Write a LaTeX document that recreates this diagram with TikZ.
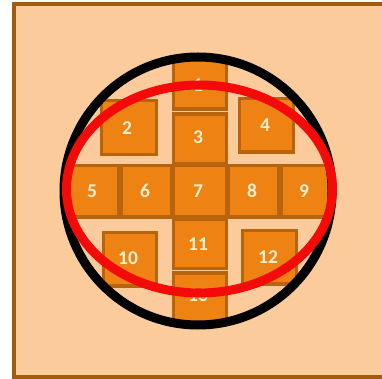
\documentclass[tikz,border=0pt]{standalone}
\usepackage{fontspec}
\setmainfont{Carlito}
\definecolor{bgpeach}{HTML}{FCCB9C}
\definecolor{framebrown}{HTML}{A65A0C}
\definecolor{tileorange}{HTML}{EE8212}
\definecolor{tilebrown}{HTML}{B8640E}
\definecolor{labelcream}{HTML}{FDEFCF}
\definecolor{ringred}{HTML}{F50A0A}
\tikzset{
  tile/.style={fill=tileorange, draw=tilebrown, line width=3.2pt},
  tilelabel/.style={text=labelcream, font=\bfseries\fontsize{19.5}{19.5}\selectfont, inner sep=0pt},
  blackring/.style={draw=black, line width=9pt},
  redring/.style={draw=ringred, line width=9pt},
}
\begin{document}
\begin{tikzpicture}[x=1pt, y=-1pt]
\useasboundingbox (0,0) rectangle (382,379);
\fill[white] (0,0) rectangle (382,379);
\draw[fill=bgpeach, draw=framebrown, line width=4pt] (14,4.5) rectangle (395,376.5);
\begin{scope}
  \clip (198,191) circle [radius=134];
  \draw[tile] (173.5,30) rectangle (226.5,109);
  \draw[tile] (173.5,114) rectangle (226.5,164);
  \draw[tile] (50,165.5) rectangle (118.5,217);
  \draw[tile] (121.5,165.5) rectangle (172,217);
  \draw[tile] (173.5,165.5) rectangle (226.5,217);
  \draw[tile] (228,165.5) rectangle (278.5,217);
  \draw[tile] (281.5,165.5) rectangle (350,217);
  \draw[tile] (173.5,219) rectangle (226.5,268.5);
  \draw[tile] (173.5,273) rectangle (226.5,350);
  \draw[tile] (101.5,100.5) rectangle (156.5,154.5);
  \draw[tile] (239.5,98.5) rectangle (293.5,152);
  \draw[tile] (103.5,232.5) rectangle (156.5,286);
  \draw[tile] (242.5,230.5) rectangle (296.5,284);
\end{scope}
\node[tilelabel] (l1) at (198,85) {1};
\node[tilelabel] (l2) at (127,128) {2};
\node[tilelabel] (l3) at (198,137) {3};
\node[tilelabel] (l4) at (265,125) {4};
\node[tilelabel] (l5) at (92,191) {5};
\node[tilelabel] (l6) at (145,191) {6};
\node[tilelabel] (l7) at (198,191) {7};
\node[tilelabel] (l8) at (252,191) {8};
\node[tilelabel] (l9) at (304,191) {9};
\node[tilelabel] (l10) at (128,258) {10};
\node[tilelabel] (l11) at (198,244) {11};
\node[tilelabel] (l12) at (268,257) {12};
\node[tilelabel] (l13) at (198,295) {13};
\draw[blackring] (198,191) circle [radius=134];
\draw[redring] (199.5,189) ellipse [x radius=133, y radius=104];
\end{tikzpicture}
\end{document}
